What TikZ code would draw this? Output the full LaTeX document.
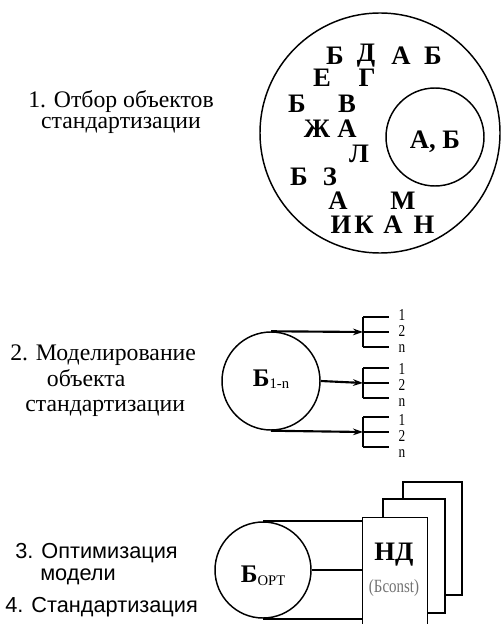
\documentclass[tikz,border=0pt]{standalone}
\usepackage{fontspec}
\usepackage{graphicx}
\setmainfont{Liberation Serif}
\setsansfont{Liberation Sans}
\newfontfamily\tnrfont{Liberation Serif}
\usetikzlibrary{arrows.meta}
\newcommand\narrowtxt[1]{\scalebox{0.8}[1]{#1}}
\begin{document}
\begin{tikzpicture}[x=0.75pt,y=-0.75pt,
 lbl/.style={font=\tnrfont\fontsize{17.8}{15.8}\selectfont, inner sep=0},
 slbl/.style={font=\sffamily\fontsize{16.3}{18}\selectfont, anchor=west, inner sep=0},
 ltr/.style={font=\tnrfont\bfseries\fontsize{20}{22}\selectfont, inner sep=0},
 ring/.style={draw, circle, line width=1.1pt, inner sep=0},
 conn/.style={line width=1.6pt},
 arr/.style={conn, -{Stealth[length=7.5pt,width=5pt]}},
 brk/.style={line width=1pt},
 num/.style={font=\tnrfont\fontsize{12.5}{12.2}\selectfont, inner sep=0, align=center},
 sheet/.style={draw, line width=1.1pt, fill=white},
]
\useasboundingbox (0,0) rectangle (501,624);
\clip (0,0) rectangle (501,624);

% ---------- section 1
\node[lbl, align=center] (t1) at (121,112) {1. Отбор объектов\\стандартизации};
\node[ring, minimum size=180pt] (big) at (380,133) {};
\node[ring, minimum size=73.5pt] (small) at (435,137) {};
\node[ltr] (ab) at (435,142) {А, Б};
\node[ltr] (l1) at (335,56) {Б};
\node[ltr] (l2) at (366,56) {Д};
\node[ltr] (l3) at (401,56) {А};
\node[ltr] (l4) at (433,56) {Б};
\node[ltr] (l5) at (322,78) {Е};
\node[ltr] (l6) at (367,78) {Г};
\node[ltr] (l7) at (297,104) {Б};
\node[ltr] (l8) at (347,104) {В};
\node[ltr] (l9) at (317,129) {Ж};
\node[ltr] (l10) at (347,129) {А};
\node[ltr] (l11) at (359,154) {Л};
\node[ltr] (l12) at (299,177) {Б};
\node[ltr] (l13) at (330,177) {З};
\node[ltr] (l14) at (338,201) {А};
\node[ltr] (l15) at (403,201) {М};
\node[ltr] (l16) at (341,225) {И};
\node[ltr] (l17) at (364,225) {К};
\node[ltr] (l18) at (393,225) {А};
\node[ltr] (l19) at (424,225) {Н};

% ---------- section 2
\node[lbl, align=left, anchor=west, font=\tnrfont\fontsize{17.8}{19.2}\selectfont] (t2) at (10,381) {2. Моделирование\\\hspace*{27.5pt}объекта\\\hspace*{11.3pt}стандартизации};
\node[ring, minimum size=73.5pt] (mod) at (271,381) {};
\node[inner sep=0, anchor=base] (modt) at (271,386) {\tnrfont\bfseries\fontsize{19}{19}\selectfont Б\raisebox{-0.1em}{\mdseries\fontsize{11}{11}\selectfont 1-n}};
\foreach \i/\y/\m in {1/332/331,2/383/385,3/432/436}{
  \coordinate (b\i) at (363,\y);
  \draw[brk] (363,\y-15) -- (363,\y+15);
  \draw[brk] (363,\y-15) -- (389,\y-15);
  \draw[brk] (363,\y) -- (389,\y);
  \draw[brk] (363,\y+15) -- (389,\y+15);
  \node[num] (n\i) at (402,\m) {\narrowtxt{1}\\\narrowtxt{2}\\\narrowtxt{n}};
}
\draw[arr] (mod.north) -- (b1);
\draw[arr] (mod.east) -- (b2);
\draw[arr] (mod.south) -- (b3);

% ---------- section 3
\node[slbl] (t3a) at (15,553) {3. Оптимизация};
\node[slbl] (t3b) at (40,577) {модели};
\node[slbl] (t3c) at (5,607) {4. Стандартизация};
\draw[sheet] (403,482) rectangle (462,595);
\draw[sheet] (383,499) rectangle (445,613);
\node[sheet, minimum width=48.75pt, minimum height=92pt, anchor=north west, inner sep=0] (nd) at (362,517) {};
\node[ltr] (ndt) at (394,555) {НД};
\node[font=\tnrfont\fontsize{14}{14}\selectfont, text=black!55, inner sep=0] (bc) at (394,588) {\narrowtxt{(Бconst)}};
\node[ring, minimum size=72pt] (opt) at (263,570) {};
\node[inner sep=0, anchor=base] (optt) at (263,582) {\tnrfont\bfseries\fontsize{19}{19}\selectfont Б\raisebox{-0.15em}{\mdseries\fontsize{11}{11}\selectfont OPT}};
\draw[conn] (opt.north) -- (opt.north -| nd.west);
\draw[conn] (opt.east) -- (opt.east -| nd.west);
\draw[conn] (opt.south) -- (opt.south -| nd.west);
\end{tikzpicture}
\end{document}
